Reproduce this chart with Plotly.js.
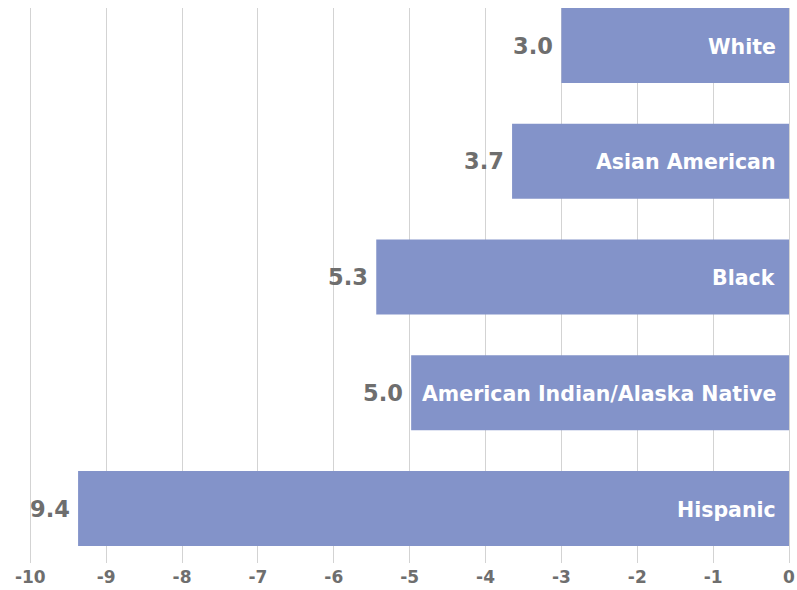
<!DOCTYPE html>
<html>
<head>
<meta charset="utf-8">
<script src="https://cdn.plot.ly/plotly-3.0.1.min.js"></script>
<style>
  html, body { margin: 0; padding: 0; background: #fff; }
  #plotDiv { width: 797px; height: 590px; }
</style>
</head>
<body>
<div id="plotDiv"></div>
<script>
"use strict";

// Data
const groups = ['White', 'Asian American', 'Black', 'American Indian/Alaska Native', 'Hispanic'];
const values = [-3.0, -3.65, -5.44, -4.98, -9.37];
const valueLabels = ['3.0', '3.7', '5.3', '5.0', '9.4'];
const xTicks = [-10, -9, -8, -7, -6, -5, -4, -3, -2, -1, 0];

const BAR_COLOR = '#8393c9';
const GREY = '#6e6e6e';
const FONT = '"DejaVu Sans", sans-serif';

const trace = {
    type: 'bar',
    orientation: 'h',
    x: values,
    y: groups,
    width: 0.648,
    marker: { color: BAR_COLOR },
    hoverinfo: 'none',
};

// Value labels left of the bar tip, group names inside the bar near zero
var annotations = [];
groups.forEach((g, i) => {
    annotations.push({
        x: values[i], y: g, xref: 'x', yref: 'y',
        text: valueLabels[i],
        showarrow: false, xanchor: 'right', xshift: -6,
        font: { family: FONT, size: 22.5, color: GREY, weight: 'bold' },
    });
    annotations.push({
        x: 0, y: g, xref: 'x', yref: 'y',
        text: g,
        showarrow: false, xanchor: 'right', xshift: -11, yshift: -1,
        font: { family: FONT, size: 20.5, color: '#ffffff', weight: 'bold' },
    });
});

const layout = {
    width: 797,
    height: 590,
    margin: { l: 28, r: 8, t: 8, b: 27 },
    paper_bgcolor: '#ffffff',
    plot_bgcolor: '#ffffff',
    showlegend: false,
    xaxis: {
        // a bit past -10 so the edge gridline is still drawn
        range: [-10.03, 0],
        tickvals: xTicks,
        ticktext: xTicks.map(String),
        showgrid: true,
        gridcolor: '#d3d3d3',
        gridwidth: 1,
        zeroline: true,
        zerolinecolor: '#d3d3d3',
        zerolinewidth: 1,
        showline: false,
        ticks: '',
        ticklabelstandoff: 2,
        tickfont: { family: FONT, size: 17, color: GREY, weight: 'bold' },
        fixedrange: true,
    },
    yaxis: {
        type: 'category',
        range: [4.47, -0.324],
        showticklabels: false,
        showgrid: false,
        zeroline: false,
        ticks: '',
        fixedrange: true,
    },
    annotations: annotations,
};

Plotly.newPlot('plotDiv', [trace], layout, { displayModeBar: false, staticPlot: true });
</script>
</body>
</html>
